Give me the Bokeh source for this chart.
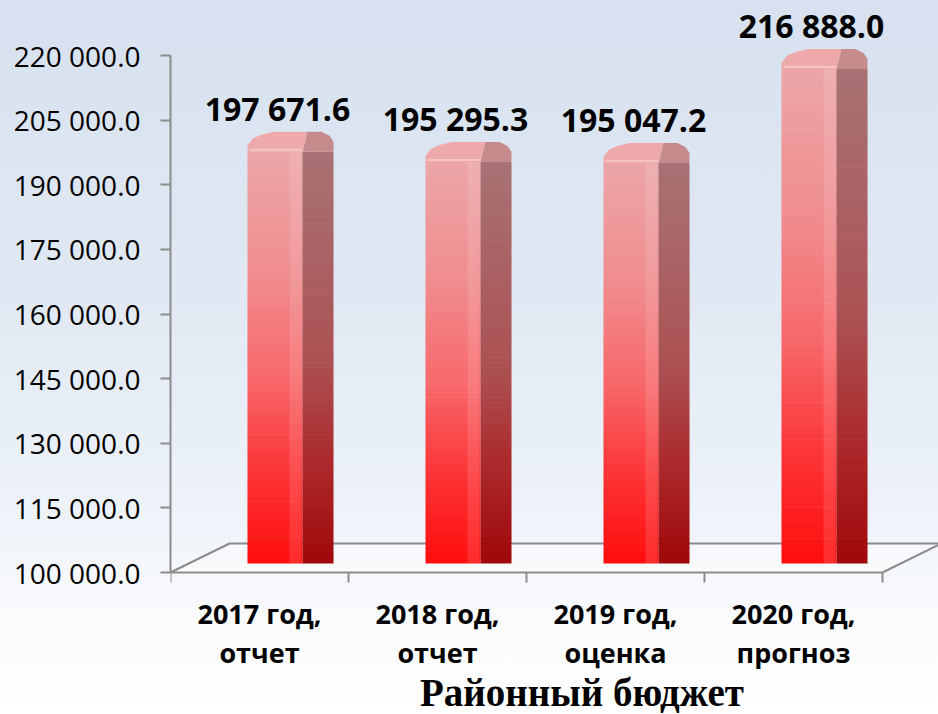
import numpy as np
from bokeh.plotting import figure
from bokeh.models import Range1d, FixedTicker, ColumnDataSource, LabelSet
from bokeh.core.properties import value
from bokeh.embed import file_html
from bokeh.resources import INLINE

# ---------------- data ----------------
CATEGORIES = ["2017 год,\nотчет", "2018 год,\nотчет", "2019 год,\nоценка", "2020 год,\nпрогноз"]
VALUES = [197671.6, 195295.3, 195047.2, 216888.0]
Y_TICKS = [100000, 115000, 130000, 145000, 160000, 175000, 190000, 205000, 220000]
TITLE = "Районный бюджет"

# ---------------- layout ----------------
W, H = 938, 714
LEFT_PX = 170
BOTTOM_PX = 142          # space below the 100 000 line (inside the frame)
AXIS_TOP_PX = 55          # space above the 220 000 line
CAT_PX = 178
FRAME_W = W - LEFT_PX

y0, y1 = Y_TICKS[0], Y_TICKS[-1]
ppu_y = (H - AXIS_TOP_PX - BOTTOM_PX) / (y1 - y0)
y_end = y1 + AXIS_TOP_PX / ppu_y
y_start = y0 - BOTTOM_PX / ppu_y
n = len(CATEGORIES)
x_end = FRAME_W / CAT_PX


def dx(px):
    return px / CAT_PX


def dy(px):
    return px / ppu_y


def lerp_color(stops, t):
    for (ta, ca), (tb, cb) in zip(stops[:-1], stops[1:]):
        if ta <= t <= tb:
            f = (t - ta) / (tb - ta) if tb > ta else 0
            c = [int(round(a + (b - a) * f)) for a, b in zip(ca, cb)]
            return "#%02x%02x%02x" % tuple(c)
    return "#%02x%02x%02x" % tuple(stops[-1][1])


FRONT_STOPS = [(0.0, (255, 14, 14)), (0.22, (252, 52, 54)), (0.45, (248, 104, 106)),
               (0.7, (240, 140, 142)), (1.0, (236, 166, 168))]
SIDE_STOPS = [(0.0, (160, 8, 10)), (0.25, (172, 42, 44)), (0.5, (172, 82, 84)),
              (1.0, (168, 114, 116))]
AXIS_COLOR = "#8c8c8c"

p = figure(width=W, height=H, output_backend="svg", toolbar_location=None,
           x_range=Range1d(0, x_end), y_range=Range1d(y_start, y_end),
           min_border_left=LEFT_PX, min_border_right=0, min_border_top=0,
           min_border_bottom=0)
p.background_fill_alpha = 0
p.border_fill_alpha = 0
p.outline_line_color = None
p.grid.visible = False
p.xaxis.visible = False
p.styles = {"background": "linear-gradient(to bottom, #d7e1ef 0%, #e0e8f3 40%, #edf2f9 70%, #fafbfd 87%, #ffffff 100%)"}

# ---------------- floor ----------------
DEPTH_X = dx(59)
DEPTH_Y = dy(29)
p.patch([0, n, n + DEPTH_X, DEPTH_X], [y0, y0, y0 + DEPTH_Y, y0 + DEPTH_Y],
        fill_color="white", fill_alpha=0.35, line_color=None)
p.line([0, DEPTH_X, n + DEPTH_X], [y0, y0 + DEPTH_Y, y0 + DEPTH_Y], line_color=AXIS_COLOR, line_width=2)
p.line([n, n + DEPTH_X], [y0, y0 + DEPTH_Y], line_color=AXIS_COLOR, line_width=2)
# category axis (front edge + ticks between categories)
p.line([0, n], [y0, y0], line_color=AXIS_COLOR, line_width=2)
p.segment(x0=list(range(n + 1)), x1=list(range(n + 1)), y0=[y0] * (n + 1),
          y1=[y0 - dy(10)] * (n + 1), line_color=AXIS_COLOR, line_width=2)

# ---------------- bars ----------------
NSEG = 80
base = y0 + dy(9)
fl, fr, fb, ft, fc = [], [], [], [], []
sl, sr, sb, st, sc = [], [], [], [], []
hl, hr, hb, ht = [], [], [], []
cap_f_xs, cap_f_ys, cap_s_xs, cap_s_ys = [], [], [], []
for i, v in enumerate(VALUES):
    c = i + 0.5
    for k in range(NSEG):
        t0 = k / NSEG
        t1 = (k + 1) / NSEG
        b = base + (v - base) * t0
        t = base + (v - base) * t1 + (dy(0.6) if k < NSEG - 1 else 0)
        fl.append(c + dx(-12)); fr.append(c + dx(43)); fb.append(b); ft.append(t)
        fc.append(lerp_color(FRONT_STOPS, (t0 + t1) / 2))
        sl.append(c + dx(43)); sr.append(c + dx(74)); sb.append(b); st.append(t)
        sc.append(lerp_color(SIDE_STOPS, (t0 + t1) / 2))
    hl.append(c + dx(30)); hr.append(c + dx(42)); hb.append(base); ht.append(v)
    fpts = [(-12, 0), (-12, 6), (-7, 13), (2, 17), (14, 20), (48, 20), (43, 1), (43, 0)]
    spts = [(43, 0), (48, 20), (62, 20), (70, 16), (74, 10), (74, 0)]
    cap_f_xs.append([c + dx(a) for a, _ in fpts]); cap_f_ys.append([v + dy(b_) for _, b_ in fpts])
    cap_s_xs.append([c + dx(a) for a, _ in spts]); cap_s_ys.append([v + dy(b_) for _, b_ in spts])

p.quad(left=fl, right=fr, bottom=fb, top=ft, fill_color=fc, line_color=None)
p.quad(left=sl, right=sr, bottom=sb, top=st, fill_color=sc, line_color=None)
p.quad(left=hl, right=hr, bottom=hb, top=ht, fill_color="white", fill_alpha=0.12, line_color=None)
p.patches(cap_f_xs, cap_f_ys, fill_color="#eeaaab", line_color=None)
p.patches(cap_s_xs, cap_s_ys, fill_color="#c48a8c", line_color=None)
p.segment(x0=[i + 0.5 + dx(-10) for i in range(n)], x1=[i + 0.5 + dx(43) for i in range(n)],
          y0=[v + dy(2) for v in VALUES], y1=[v + dy(2) for v in VALUES],
          line_color="#f6c4c4", line_width=2)

# ---------------- value axis ----------------
yax = p.yaxis[0]
yax.ticker = FixedTicker(ticks=Y_TICKS)
yax.bounds = (y0, y1)
yax.major_label_overrides = {t: f"{t:,.1f}".replace(",", " ") for t in Y_TICKS}
yax.major_label_text_font = "Open Sans"
yax.major_label_text_font_size = "28px"
yax.major_label_text_color = "black"
yax.major_label_standoff = 20
yax.major_tick_out = 10
yax.major_tick_in = 0
yax.minor_tick_out = 0
yax.minor_tick_in = 0
yax.axis_line_color = AXIS_COLOR
yax.axis_line_width = 2
yax.major_tick_line_color = AXIS_COLOR
yax.major_tick_line_width = 2

# ---------------- labels ----------------
line1 = [s.split("\n")[0] for s in CATEGORIES]
line2 = [s.split("\n")[1] for s in CATEGORIES]
cat_src = ColumnDataSource(dict(x=[i + 0.5 for i in range(n)], y=[y0] * n, l1=line1, l2=line2))
for col, off in (("l1", -51), ("l2", -90)):
    p.add_layout(LabelSet(x="x", y="y", text=col, source=cat_src, y_offset=off,
                          text_align="center", text_baseline="alphabetic",
                          text_font=value("Open Sans"), text_font_style="bold",
                          text_font_size="27px", text_color="black"))

val_src = ColumnDataSource(dict(x=[i + 0.5 + dx(18) for i in range(n)], y=VALUES,
                                t=[f"{v:,.1f}".replace(",", " ") for v in VALUES]))
p.add_layout(LabelSet(x="x", y="y", text="t", source=val_src, y_offset=31,
                      text_align="center", text_baseline="alphabetic",
                      text_font=value("Open Sans"), text_font_style="bold",
                      text_font_size="32px", text_color="black"))

title_src = ColumnDataSource(dict(x=[dx(411.5)], y=[y0], t=[TITLE]))
p.add_layout(LabelSet(x="x", y="y", text="t", source=title_src, y_offset=-133,
                      text_align="center", text_baseline="alphabetic",
                      text_font=value("Liberation Serif"), text_font_style="bold",
                      text_font_size="39px", text_color="black"))

open("out.html", "w").write(file_html(p, INLINE))
